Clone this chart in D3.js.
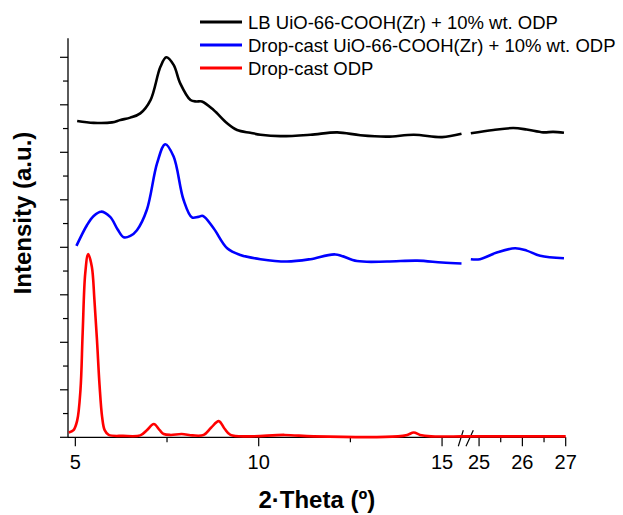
<!DOCTYPE html>
<html>
<head>
<meta charset="utf-8">
<script src="https://cdnjs.cloudflare.com/ajax/libs/d3/7.8.5/d3.min.js"></script>
<style>
  body { margin: 0; background: #fff; }
  text { font-family: Arial, "Liberation Sans", sans-serif; fill: #000; }
</style>
</head>
<body>
<div id="chart"></div>
<script>
// series names
var seriesNames = [
  "LB UiO-66-COOH(Zr) + 10% wt. ODP",
  "Drop-cast UiO-66-COOH(Zr) + 10% wt. ODP",
  "Drop-cast ODP"
];
var seriesColors = ["#000000", "#0000ff", "#ff0000"];

// [2theta, intensity] (offset curves, a.u.)
var lbData = [
  [5.05, 6.66], [5.5, 6.62], [6.0, 6.63], [6.23, 6.68], [6.5, 6.73], [6.77, 6.82], [7.05, 7.1],
  [7.32, 7.8], [7.48, 8.0], [7.68, 7.84], [7.86, 7.45], [8.14, 7.1], [8.3, 7.07], [8.45, 7.07],
  [8.77, 6.89], [9.14, 6.61], [9.41, 6.47], [9.77, 6.41], [10.05, 6.37], [10.59, 6.34],
  [11.41, 6.37], [12.14, 6.42], [12.77, 6.36], [13.5, 6.33], [14.23, 6.37], [15.0, 6.32], [15.53, 6.39],
  [24.81, 6.4], [25.33, 6.47], [25.79, 6.51], [26.1, 6.48], [26.48, 6.42], [26.71, 6.43], [26.96, 6.41]
];
var dropMofData = [
  [5.03, 4.03], [5.32, 4.47], [5.5, 4.66], [5.7, 4.75], [5.95, 4.64], [6.15, 4.38], [6.32, 4.21],
  [6.5, 4.24], [6.68, 4.36], [6.95, 4.79], [7.23, 5.77], [7.45, 6.17], [7.68, 5.91], [7.95, 5.0],
  [8.18, 4.63], [8.35, 4.64], [8.48, 4.66], [8.77, 4.4], [9.14, 3.98], [9.5, 3.84], [10.05, 3.75],
  [10.77, 3.7], [11.41, 3.75], [12.09, 3.85], [12.68, 3.71], [13.5, 3.7], [14.32, 3.72], [15.0, 3.68], [15.53, 3.66],
  [24.81, 3.75], [25.02, 3.75], [25.41, 3.89], [25.83, 3.98], [26.1, 3.93], [26.41, 3.82], [26.96, 3.77]
];
var odpData = [
  [4.82, 0.1], [4.95, 0.15], [5.05, 0.35], [5.14, 1.0], [5.2, 2.2], [5.27, 3.45], [5.35, 3.86],
  [5.45, 3.59], [5.52, 2.9], [5.59, 2.05], [5.66, 1.1], [5.73, 0.43], [5.8, 0.15], [5.91, 0.05],
  [6.3, 0.03], [6.77, 0.04], [6.95, 0.15], [7.14, 0.28], [7.3, 0.15], [7.41, 0.07], [7.6, 0.05],
  [7.9, 0.07], [8.2, 0.04], [8.5, 0.05], [8.7, 0.2], [8.91, 0.34], [9.07, 0.18], [9.23, 0.05],
  [9.77, 0.02], [10.7, 0.05], [11.5, 0.02], [13.8, 0.02], [14.05, 0.05], [14.23, 0.1], [14.4, 0.05],
  [14.7, 0.02], [15.53, 0.02], [24.81, 0.02], [25.5, 0.02], [26.5, 0.02], [27, 0.02]
];

// broken x axis: two segments
var xTicksLeft = [5, 10, 15];
var xMinorLeft = [7.5, 12.5];
var xTicksRight = [25, 26, 27];
var xMinorRight = [25.5, 26.5];
var yMajor = [0, 1, 2, 3, 4, 5, 6, 7, 8];
var yMinor = [0.5, 1.5, 2.5, 3.5, 4.5, 5.5, 6.5, 7.5];

var width = 623, height = 515;
var axisY = 437.3, axisX = 68;

var xLeft = d3.scaleLinear().domain([4.8, 15.53]).range([68, 461.5]);
var xRight = d3.scaleLinear().domain([24.8, 27]).range([470.4, 565.7]);
var y = d3.scaleLinear().domain([0, 8.4]).range([axisY, 38.3]);

function x(t) { return t < 20 ? xLeft(t) : xRight(t); }

var svg = d3.select("#chart").append("svg")
  .attr("width", width)
  .attr("height", height);

// y axis
svg.append("line")
  .attr("x1", axisX).attr("x2", axisX)
  .attr("y1", y.range()[1]).attr("y2", axisY)
  .attr("stroke", "#000").attr("stroke-width", 1.3);

svg.selectAll(".ymaj").data(yMajor).enter().append("line")
  .attr("x1", axisX - 8).attr("x2", axisX)
  .attr("y1", function(d) { return y(d); }).attr("y2", function(d) { return y(d); })
  .attr("stroke", "#000").attr("stroke-width", 1.2);

svg.selectAll(".ymin").data(yMinor).enter().append("line")
  .attr("x1", axisX - 5).attr("x2", axisX)
  .attr("y1", function(d) { return y(d); }).attr("y2", function(d) { return y(d); })
  .attr("stroke", "#000").attr("stroke-width", 1.2);

// x axis line
svg.append("line")
  .attr("x1", axisX).attr("x2", xRight(27))
  .attr("y1", axisY).attr("y2", axisY)
  .attr("stroke", "#000").attr("stroke-width", 1.3);

var majorTicks = xTicksLeft.concat(xTicksRight);
var minorTicks = xMinorLeft.concat(xMinorRight);

svg.selectAll(".xmaj").data(majorTicks).enter().append("line")
  .attr("x1", function(d) { return x(d); }).attr("x2", function(d) { return x(d); })
  .attr("y1", axisY).attr("y2", axisY + 9)
  .attr("stroke", "#000").attr("stroke-width", 1.2);

svg.selectAll(".xmin").data(minorTicks).enter().append("line")
  .attr("x1", function(d) { return x(d); }).attr("x2", function(d) { return x(d); })
  .attr("y1", axisY).attr("y2", axisY + 5)
  .attr("stroke", "#000").attr("stroke-width", 1.2);

svg.selectAll(".xlab").data(majorTicks).enter().append("text")
  .attr("x", function(d) { return x(d); })
  .attr("y", 469)
  .attr("text-anchor", "middle")
  .style("font-size", "20px")
  .text(function(d) { return d; });

// break marks
[[458.3, 463.3], [466, 473.3]].forEach(function(s) {
  svg.append("line")
    .attr("x1", s[0]).attr("y1", axisY + 9)
    .attr("x2", s[1]).attr("y2", axisY - 7)
    .attr("stroke", "#000").attr("stroke-width", 1.2);
});

// curves
var line = d3.line()
  .x(function(d) { return x(d[0]); })
  .y(function(d) { return y(d[1]); })
  .curve(d3.curveCatmullRom.alpha(0.5));

function segments(data) {
  return [
    data.filter(function(d) { return d[0] < 20; }),
    data.filter(function(d) { return d[0] > 20; })
  ];
}

var curves = [segments(lbData), segments(dropMofData), [odpData]];

curves.forEach(function(segs, i) {
  segs.forEach(function(seg) {
    svg.append("path")
      .datum(seg)
      .attr("d", line)
      .attr("fill", "none")
      .attr("stroke", seriesColors[i])
      .attr("stroke-width", 2.6)
      .attr("stroke-linejoin", "round");
  });
});

// legend
var legend = svg.selectAll(".legend").data(seriesNames).enter().append("g")
  .attr("transform", function(d, i) { return "translate(200," + (22 + i * 23) + ")"; });

legend.append("line")
  .attr("x1", 0).attr("x2", 42)
  .attr("stroke", function(d, i) { return seriesColors[i]; })
  .attr("stroke-width", 3);

legend.append("text")
  .attr("x", 48).attr("y", 7)
  .style("font-size", "18.5px")
  .text(function(d) { return d; });

// axis titles
svg.append("text")
  .attr("x", (axisX + xRight(27)) / 2)
  .attr("y", 508)
  .attr("text-anchor", "middle")
  .style("font-size", "24px")
  .style("font-weight", "bold")
  .text("2\u00B7Theta (\u00BA)");

svg.append("text")
  .attr("transform", "translate(31,213) rotate(-90)")
  .attr("text-anchor", "middle")
  .style("font-size", "24px")
  .style("font-weight", "bold")
  .text("Intensity (a.u.)");
</script>
</body>
</html>
